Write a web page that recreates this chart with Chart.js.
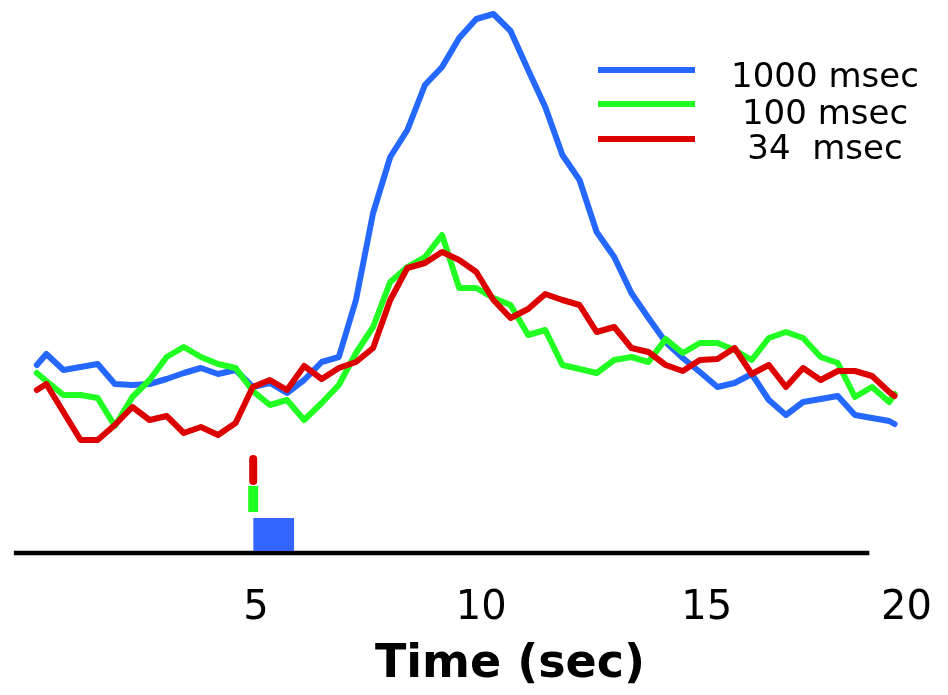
<!DOCTYPE html>
<html lang="en">
<head>
    <meta charset="UTF-8">
    <title>Time (sec)</title>
    <script src="https://cdn.jsdelivr.net/npm/chart.js"></script>
    <style>
        html, body {
            margin: 0;
            padding: 0;
            background: #ffffff;
        }
        canvas {
            display: block;
        }
    </style>
</head>
<body>
    <canvas id="responseChart" width="948" height="695"></canvas>

    <script>
        // time of each sample (sec)
        const times = [0.14, 0.35, 0.73, 1.11, 1.49, 1.87, 2.26, 2.64, 3.02, 3.40, 3.78,
            4.16, 4.55, 4.93, 5.31, 5.69, 6.07, 6.46, 6.84, 7.22, 7.60, 7.98,
            8.36, 8.75, 9.13, 9.51, 9.89, 10.27, 10.65, 11.04, 11.42, 11.80,
            12.18, 12.56, 12.95, 13.33, 13.71, 14.09, 14.47, 14.85, 15.24, 15.62,
            16.00, 16.38, 16.76, 17.14, 17.53, 17.91, 18.29, 18.67, 19.05, 19.17];

        // responses, one per stimulus duration
        const resp1000 = [1.88, 1.99, 1.83, 1.86, 1.89, 1.69, 1.68, 1.69, 1.74, 1.80, 1.85,
            1.79, 1.83, 1.66, 1.70, 1.60, 1.73, 1.91, 1.96, 2.53, 3.40, 3.96,
            4.23, 4.68, 4.86, 5.15, 5.34, 5.39, 5.22, 4.83, 4.46, 3.98,
            3.73, 3.21, 2.96, 2.60, 2.35, 2.11, 1.95, 1.81, 1.66, 1.70,
            1.79, 1.53, 1.38, 1.51, 1.54, 1.57, 1.38, 1.35, 1.32, 1.29];
        const resp100 = [1.80, 1.72, 1.58, 1.58, 1.55, 1.27, 1.56, 1.73, 1.96, 2.06, 1.96,
            1.89, 1.85, 1.62, 1.48, 1.53, 1.33, 1.50, 1.68, 2.00, 2.26, 2.71,
            2.86, 2.96, 3.18, 2.65, 2.65, 2.55, 2.48, 2.18, 2.23, 1.88,
            1.84, 1.80, 1.93, 1.96, 1.91, 2.14, 2.00, 2.10, 2.10, 2.03,
            1.93, 2.15, 2.21, 2.15, 1.96, 1.90, 1.56, 1.66, 1.51, 1.59];
        const resp34 = [1.63, 1.69, 1.41, 1.13, 1.13, 1.28, 1.46, 1.33, 1.37, 1.20, 1.26,
            1.18, 1.30, 1.66, 1.73, 1.63, 1.87, 1.74, 1.85, 1.91, 2.05, 2.53,
            2.85, 2.90, 3.01, 2.93, 2.81, 2.53, 2.35, 2.44, 2.59, 2.53,
            2.48, 2.21, 2.26, 2.05, 2.01, 1.88, 1.82, 1.93, 1.94, 2.05,
            1.79, 1.88, 1.66, 1.85, 1.73, 1.82, 1.82, 1.77, 1.61, 1.57];

        const seriesLabels = ['1000 msec', '100 msec', '34  msec'];
        const tickValues = [5, 10, 15, 20];
        const xTitle = 'Time (sec)';

        // stimulus marks below the curves
        const stimOnset = 4.94;
        const stimEnd1000 = 5.85;
        const mark34 = [0.94, 0.72];
        const mark100 = [0.67, 0.41];
        const mark1000 = [0.35, 0.02];
        const baseSpan = [-0.37, 18.61];

        const FONT = '"DejaVu Sans", sans-serif';
        const BLUE = '#2468ff';
        const GREEN = '#22ff22';
        const RED = '#dd0000';

        const toPoints = (xs, ys) => xs.map((x, i) => ({ x: x, y: ys[i] }));

        // legend at the top right + axis title (sits right of the plot centre in the original)
        const extras = {
            id: 'extras',
            afterDraw(chart) {
                const ctx = chart.ctx;
                const lineY = [70, 104, 139];
                const textY = [78, 115, 150];
                ctx.save();
                for (let i = 0; i < 3; i++) {
                    const ds = chart.data.datasets[i];
                    ctx.strokeStyle = ds.borderColor;
                    ctx.lineWidth = 6;
                    ctx.beginPath();
                    ctx.moveTo(598, lineY[i]);
                    ctx.lineTo(695, lineY[i]);
                    ctx.stroke();
                    ctx.fillStyle = '#000000';
                    ctx.font = '34px ' + FONT;
                    ctx.textAlign = 'center';
                    ctx.textBaseline = 'middle';
                    ctx.fillText(ds.label, 825, textY[i]);
                }
                ctx.font = 'bold 46px ' + FONT;
                ctx.fillText(xTitle, 510, 665);
                ctx.restore();
            }
        };

        const lineStyle = {
            borderWidth: 6,
            pointRadius: 0,
            tension: 0,
            fill: false,
            borderJoinStyle: 'round',
            borderCapStyle: 'round',
            clip: false
        };

        const ctx = document.getElementById('responseChart').getContext('2d');
        const responseChart = new Chart(ctx, {
            type: 'line',
            data: {
                datasets: [
                    { ...lineStyle, label: seriesLabels[0], borderColor: BLUE, data: toPoints(times, resp1000), order: 3 },
                    { ...lineStyle, label: seriesLabels[1], borderColor: GREEN, data: toPoints(times, resp100), order: 2 },
                    { ...lineStyle, label: seriesLabels[2], borderColor: RED, data: toPoints(times, resp34), order: 1 },
                    {
                        label: 'stim 34', borderColor: RED, borderWidth: 8, borderCapStyle: 'round', pointRadius: 0, clip: false,
                        data: [{ x: stimOnset, y: mark34[0] }, { x: stimOnset, y: mark34[1] }], order: 4
                    },
                    {
                        label: 'stim 100', borderColor: GREEN, borderWidth: 10, borderCapStyle: 'butt', pointRadius: 0, clip: false,
                        data: [{ x: stimOnset, y: mark100[0] }, { x: stimOnset, y: mark100[1] }], order: 5
                    },
                    {
                        label: 'stim 1000', borderColor: 'rgba(0,0,0,0)', borderWidth: 0, pointRadius: 0, clip: false,
                        backgroundColor: '#3366ff', fill: { value: mark1000[1] },
                        data: [{ x: stimOnset, y: mark1000[0] }, { x: stimEnd1000, y: mark1000[0] }], order: 6
                    },
                    {
                        label: 'baseline', borderColor: '#000000', borderWidth: 4.5, pointRadius: 0, clip: false,
                        data: [{ x: baseSpan[0], y: 0 }, { x: baseSpan[1], y: 0 }], order: 7
                    }
                ]
            },
            options: {
                responsive: false,
                animation: false,
                layout: {
                    padding: { left: 12.5, right: 16, top: 3, bottom: 0 }
                },
                scales: {
                    x: {
                        type: 'linear',
                        min: -0.4,
                        max: 20,
                        // tick marks are invisible, only used to push the labels down
                        grid: {
                            drawOnChartArea: false,
                            drawTicks: true,
                            tickLength: 27,
                            color: 'rgba(0,0,0,0)'
                        },
                        border: { display: false },
                        afterBuildTicks: scale => {
                            scale.ticks = [-0.4, ...tickValues].map(v => ({ value: v }));
                        },
                        afterFit: scale => {
                            scale.height = 137;
                        },
                        ticks: {
                            autoSkip: false,
                            maxRotation: 0,
                            align: 'inner',
                            padding: 0,
                            color: '#000000',
                            font: { family: FONT, size: 40 },
                            callback: v => tickValues.includes(v) ? String(v) : ''
                        },
                        title: { display: false }
                    },
                    y: {
                        display: false,
                        min: -0.05,
                        max: 5.5
                    }
                },
                plugins: {
                    legend: { display: false },
                    tooltip: { enabled: false }
                }
            },
            plugins: [extras]
        });
    </script>
</body>
</html>
